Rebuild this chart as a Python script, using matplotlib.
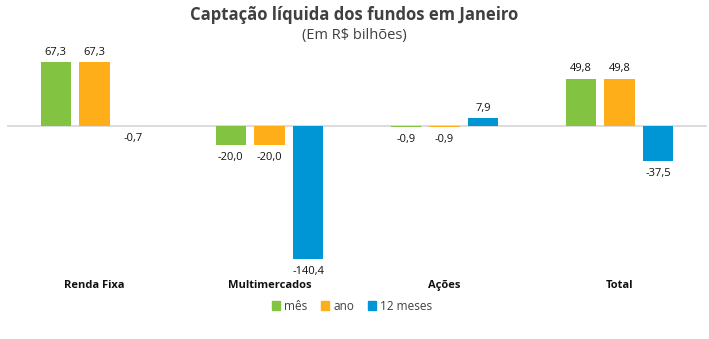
import numpy as np
import matplotlib
matplotlib.use("Agg")
import matplotlib.pyplot as plt
from matplotlib.patches import Patch

plt.rcParams['font.family'] = ['Open Sans', 'DejaVu Sans']

# captação líquida, R$ bilhões
categorias = ['Renda Fixa', 'Multimercados', 'Ações', 'Total']
series = ['mês', 'ano', '12 meses']
mes = [67.3, -20.0, -0.9, 49.8]
ano = [67.3, -20.0, -0.9, 49.8]
doze_meses = [-0.7, -140.4, 7.9, -37.5]
cores = ['#82C341', '#FDAE19', '#0096D6']

fig = plt.figure(figsize=(7.09, 3.39), dpi=100)
ax = fig.add_axes([7 / 709, 1 - 268 / 339, 700 / 709, (268 - 50) / 339])

x = np.arange(len(categorias))
larg = 0.172
passo = 0.222
for i, (vals, cor) in enumerate(zip([mes, ano, doze_meses], cores)):
    pos = x + (i - 1) * passo
    ax.bar(pos, vals, width=larg, color=cor, zorder=2)
    for p, v in zip(pos, vals):
        txt = f'{v:.1f}'.replace('.', ',')
        if v >= 0:
            ax.annotate(txt, (p, v), xytext=(0, 3), textcoords='offset points',
                        ha='center', va='bottom', fontsize=8, color='#111111')
        else:
            ax.annotate(txt, (p, v), xytext=(0, -5), textcoords='offset points',
                        ha='center', va='top', fontsize=8, color='#111111')

ax.axhline(0, color='#D9D9D9', lw=1.3, zorder=1)
ax.set_xlim(-0.5, len(categorias) - 0.5)
ax.set_ylim(-150, 80)
ax.set_yticks([])
ax.set_xticks([])
for s in ax.spines.values():
    s.set_visible(False)

for xi, nome in zip(x, categorias):
    fig.text((7 + 175 * (xi + 0.5)) / 709, 1 - 288 / 339, nome, ha='center', va='baseline',
             fontsize=8, fontweight='bold', color='#111111')

fig.text(0.5, 1 - 15 / 339, 'Captação líquida dos fundos em Janeiro', ha='center', va='center',
         fontsize=12, fontweight='bold', color='#404040')
fig.text(0.5, 1 - 35 / 339, '(Em R$ bilhões)', ha='center', va='center',
         fontsize=10.5, color='#404040')

handles = [Patch(color=c, label=s) for c, s in zip(cores, series)]
fig.legend(handles=handles, loc='center', bbox_to_anchor=(352 / 709, 1 - 306 / 339), ncol=3,
           frameon=False, fontsize=8.5, handlelength=0.7, handleheight=0.7,
           handletextpad=0.3, columnspacing=1.2, labelcolor='#404040')

fig.savefig('out.png', dpi=100)
